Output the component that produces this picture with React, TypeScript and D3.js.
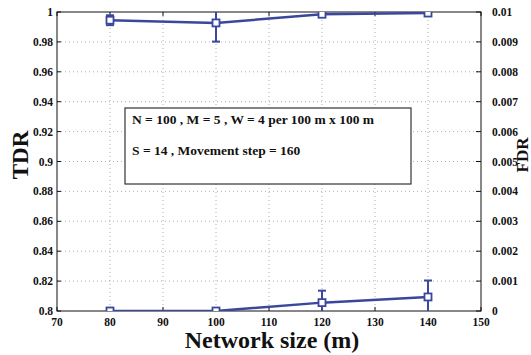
import React, {useEffect, useRef} from 'react';
import * as d3 from 'd3';

const networkSizes = [80, 100, 120, 140];
const tdrValues = [0.9945, 0.9927, 0.9985, 0.9993];
const tdrErrors = [0.0033, 0.0125, 0.0005, 0.0003];
const fdrValues = [0, 0, 0.00028, 0.00047];
const fdrErrors = [0, 0, 0.0004, 0.00055];
const xTicks = [70, 80, 90, 100, 110, 120, 130, 140, 150];
const tdrTicks = [0.8, 0.82, 0.84, 0.86, 0.88, 0.9, 0.92, 0.94, 0.96, 0.98, 1];
const fdrTicks = [0, 0.001, 0.002, 0.003, 0.004, 0.005, 0.006, 0.007, 0.008, 0.009, 0.01];
const infoLines = ['N = 100 , M = 5 , W = 4 per 100 m x 100 m', 'S = 14 , Movement step = 160'];

export default function App() {
    const svgRef = useRef<SVGSVGElement>(null);

    useEffect(() => {
        const W = 531, H = 355;
        const left = 57, right = 481, top = 12, bottom = 311;
        const blue = '#3a479c';
        const font = '"Liberation Serif", "Times New Roman", serif';

        const svg = d3.select(svgRef.current);
        svg.selectAll('*').remove();
        svg.attr('width', W).attr('height', H).style('display', 'block');

        svg.append('rect').attr('width', W).attr('height', H).attr('fill', 'white');

        const x = d3.scaleLinear().domain([70, 150]).range([left, right]);
        const yL = d3.scaleLinear().domain([0.8, 1]).range([bottom, top]);
        const yR = d3.scaleLinear().domain([0, 0.01]).range([bottom, top]);

        svg.append('defs').append('clipPath').attr('id', 'plotclip')
            .append('rect').attr('x', left).attr('y', top).attr('width', right - left).attr('height', bottom - top);

        // grid
        const grid = svg.append('g').attr('stroke', '#9a9a9a').attr('stroke-width', 0.8)
            .attr('stroke-dasharray', '1,3');
        grid.selectAll('.vg').data(xTicks.slice(1, -1)).enter().append('line')
            .attr('x1', d => x(d)).attr('x2', d => x(d)).attr('y1', top).attr('y2', bottom);
        grid.selectAll('.hg').data(tdrTicks.slice(1, -1)).enter().append('line')
            .attr('x1', left).attr('x2', right).attr('y1', d => yL(d)).attr('y2', d => yL(d));

        // frame
        svg.append('rect').attr('x', left).attr('y', top).attr('width', right - left).attr('height', bottom - top)
            .attr('fill', 'none').attr('stroke', '#111').attr('stroke-width', 1);

        // ticks (inward)
        const ticks = svg.append('g').attr('stroke', '#111').attr('stroke-width', 1);
        xTicks.forEach(t => {
            ticks.append('line').attr('x1', x(t)).attr('x2', x(t)).attr('y1', bottom).attr('y2', bottom - 4);
            ticks.append('line').attr('x1', x(t)).attr('x2', x(t)).attr('y1', top).attr('y2', top + 4);
        });
        tdrTicks.forEach(t => {
            ticks.append('line').attr('x1', left).attr('x2', left + 4).attr('y1', yL(t)).attr('y2', yL(t));
        });
        fdrTicks.forEach(t => {
            ticks.append('line').attr('x1', right).attr('x2', right - 5).attr('y1', yR(t)).attr('y2', yR(t));
        });

        // tick labels
        const labels = svg.append('g').attr('font-family', font).attr('font-weight', 'bold')
            .attr('font-size', 11.5).attr('fill', '#111');
        labels.selectAll('.xl').data(xTicks).enter().append('text')
            .attr('x', d => x(d)).attr('y', 326).attr('text-anchor', 'middle').text(d => d);
        labels.selectAll('.yl').data(tdrTicks).enter().append('text')
            .attr('x', 53).attr('y', d => yL(d)).attr('dy', '0.35em').attr('text-anchor', 'end')
            .text(d => d3.format('~g')(d));
        labels.selectAll('.yr').data(fdrTicks).enter().append('text')
            .attr('x', 492).attr('y', d => yR(d)).attr('dy', '0.35em').attr('text-anchor', 'start')
            .text(d => d3.format('~g')(d));

        // axis titles
        svg.append('text').attr('transform', 'translate(28,155) rotate(-90)')
            .attr('text-anchor', 'middle').attr('font-family', font).attr('font-weight', 'bold')
            .attr('font-size', 23).attr('fill', '#111').text('TDR');
        svg.append('text').attr('transform', 'translate(528,155) rotate(-90)')
            .attr('text-anchor', 'middle').attr('font-family', font).attr('font-weight', 'bold')
            .attr('font-size', 17).attr('fill', '#111').text('FDR');
        svg.append('text').attr('x', 272).attr('y', 348)
            .attr('text-anchor', 'middle').attr('font-family', font).attr('font-weight', 'bold')
            .attr('font-size', 24).attr('fill', '#111').text('Network size (m)');

        // info box
        svg.append('rect').attr('x', 125).attr('y', 108).attr('width', 286).attr('height', 76)
            .attr('fill', 'white').attr('stroke', '#333').attr('stroke-width', 1.2);
        svg.selectAll('.info').data(infoLines).enter().append('text')
            .attr('x', 132).attr('y', (d, i) => 124 + i * 31)
            .attr('font-family', font).attr('font-weight', 'bold').attr('font-size', 13.5).attr('fill', '#111')
            .text(d => d);

        // series
        const plot = svg.append('g').attr('clip-path', 'url(#plotclip)');
        const drawSeries = (vals: number[], errs: number[], y: d3.ScaleLinear<number, number>) => {
            const pts = networkSizes.map((s, i) => ({s, v: vals[i], e: errs[i]}));
            const g = plot.append('g');
            pts.filter(p => p.e > 0).forEach(p => {
                const cx = x(p.s);
                g.append('line').attr('x1', cx).attr('x2', cx)
                    .attr('y1', y(p.v - p.e)).attr('y2', y(p.v + p.e))
                    .attr('stroke', blue).attr('stroke-width', 2);
                [p.v - p.e, p.v + p.e].forEach(v => {
                    g.append('line').attr('x1', cx - 4).attr('x2', cx + 4)
                        .attr('y1', y(v)).attr('y2', y(v))
                        .attr('stroke', blue).attr('stroke-width', 2);
                });
            });
            const line = d3.line<{s: number, v: number}>().x(d => x(d.s)).y(d => y(d.v));
            g.append('path').datum(pts).attr('d', line).attr('fill', 'none')
                .attr('stroke', blue).attr('stroke-width', 2.5);
            g.selectAll('.m').data(pts).enter().append('rect')
                .attr('x', d => x(d.s) - 3.5).attr('y', d => y(d.v) - 3.5)
                .attr('width', 7).attr('height', 7)
                .attr('fill', 'white').attr('stroke', blue).attr('stroke-width', 1.8);
        };
        drawSeries(tdrValues, tdrErrors, yL);
        drawSeries(fdrValues, fdrErrors, yR);
    }, []);

    return (
        <div style={{position: 'fixed', left: 0, top: 0, width: 531, height: 355, overflow: 'hidden'}}>
            <svg ref={svgRef}></svg>
        </div>
    );
}
